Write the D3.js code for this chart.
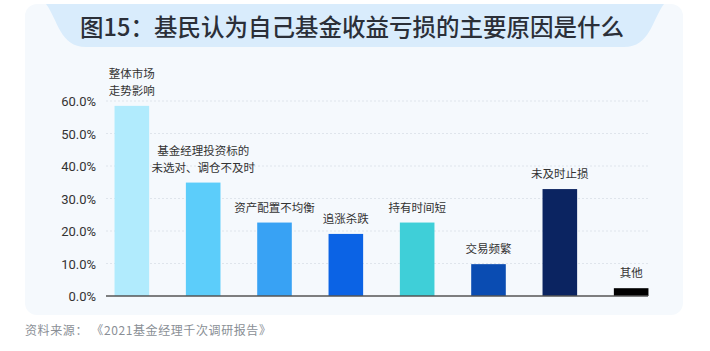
<!DOCTYPE html>
<html>
<head>
<meta charset="utf-8">
<script src="https://cdn.jsdelivr.net/npm/d3@7"></script>
<style>
  body { margin: 0; background: #fff; }
  svg { display: block; font-family: "Noto Sans CJK SC", "Noto Sans", sans-serif; }
</style>
</head>
<body>
<svg id="chart" width="710" height="351"></svg>
<script>
const title = '图15：基民认为自己基金收益亏损的主要原因是什么'
const source = '资料来源： 《2021基金经理千次调研报告》'
const categories = [
  ['整体市场', '走势影响'],
  ['基金经理投资标的', '未选对、调仓不及时'],
  ['资产配置不均衡'],
  ['追涨杀跌'],
  ['持有时间短'],
  ['交易频繁'],
  ['未及时止损'],
  ['其他']
]
const values = [58.5, 34.9, 22.6, 19.1, 22.6, 9.8, 32.9, 2.4]
const colors = ['#b1ebfd', '#5ccdfa', '#38a2f4', '#0b63e5', '#3fcfd8', '#0a4cb2', '#0b2461', '#000000']
const yTicks = [0, 10, 20, 30, 40, 50, 60]

const svg = d3.select('#chart')

// card + title banner
svg.append('rect')
  .attr('x', 25).attr('y', 4).attr('width', 658).attr('height', 311)
  .attr('rx', 12).attr('fill', '#f5f9fd')

svg.append('path')
  .attr('d', 'M46,4 L664,4 C652,20 650,47 624,47 L86,47 C60,47 58,20 46,4 Z')
  .attr('fill', '#d9ecfc')

svg.append('text')
  .attr('x', 352).attr('y', 36)
  .attr('text-anchor', 'middle')
  .attr('font-size', 23.5)
  .attr('font-weight', 500)
  .attr('fill', '#2b2f38')
  .text(title)

const x = d3.scaleBand()
  .domain(d3.range(categories.length))
  .range([96, 667])
  .paddingInner(0.515)
  .paddingOuter(0.26)

const y = d3.scaleLinear()
  .domain([0, 60])
  .range([296, 101])

const plot = svg.append('g')

plot.selectAll('.grid')
  .data(yTicks.slice(1))
  .enter().append('line')
  .attr('x1', 106).attr('x2', 648)
  .attr('y1', d => y(d)).attr('y2', d => y(d))
  .attr('stroke', '#dfe5ec')
  .attr('stroke-dasharray', '2,2')

plot.selectAll('.ylab')
  .data(yTicks)
  .enter().append('text')
  .attr('x', 96)
  .attr('y', d => y(d) + 5)
  .attr('text-anchor', 'end')
  .attr('font-size', 13)
  .attr('fill', '#333')
  .attr('font-family', 'Roboto, "Noto Sans", sans-serif')
  .text(d => d.toFixed(1) + '%')

plot.selectAll('.bar')
  .data(values)
  .enter().append('rect')
  .attr('x', (d, i) => x(i))
  .attr('width', x.bandwidth())
  .attr('y', d => y(d))
  .attr('height', d => y(0) - y(d))
  .attr('fill', (d, i) => colors[i])

plot.append('line')
  .attr('x1', 106).attr('x2', 648)
  .attr('y1', y(0)).attr('y2', y(0))
  .attr('stroke', '#555')
  .attr('stroke-width', 1.5)

const labels = plot.selectAll('.blab')
  .data(categories)
  .enter().append('text')
  .attr('text-anchor', 'middle')
  .attr('font-size', 11.5)
  .attr('fill', '#333')

labels.each(function(lines, i) {
  const cx = x(i) + x.bandwidth() / 2
  const base = y(values[i]) - 11
  d3.select(this).selectAll('tspan')
    .data(lines)
    .enter().append('tspan')
    .attr('x', cx)
    .attr('y', (d, j) => base - (lines.length - 1 - j) * 16.5)
    .text(d => d)
})

svg.append('text')
  .attr('x', 25).attr('y', 335)
  .attr('font-size', 12)
  .attr('letter-spacing', 0.6)
  .attr('fill', '#8a8f96')
  .text(source)
</script>
</body>
</html>
